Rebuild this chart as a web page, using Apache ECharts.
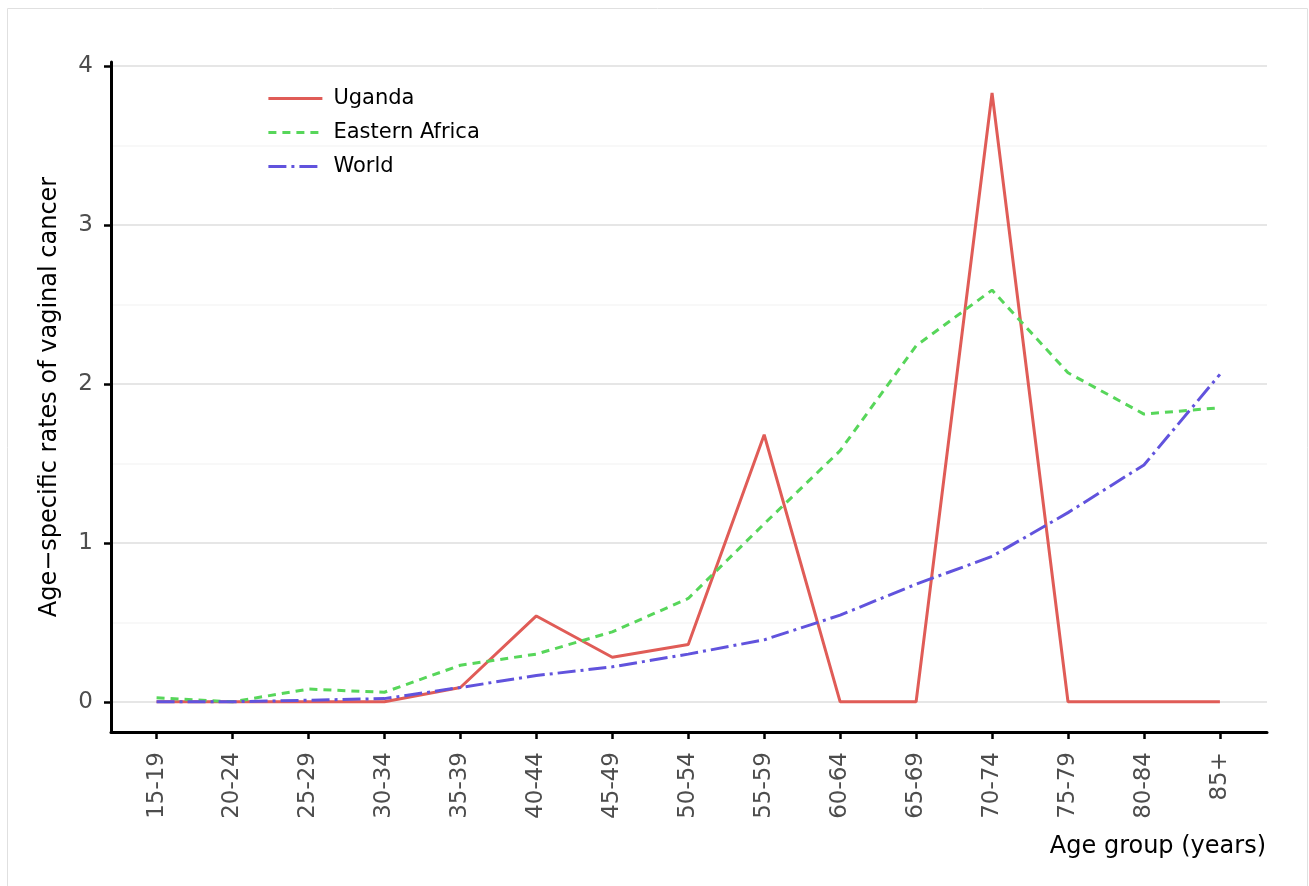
<!DOCTYPE html>
<html lang="en">

<head>
    <meta charset="UTF-8">
    <title>Vaginal cancer rates</title>
    <style>
        html, body { margin: 0; padding: 0; background: #fff; }
    </style>
</head>

<body>
    <div id="main" style="width: 1309px; height: 886px"></div>
    <script src="https://cdn.jsdelivr.net/npm/echarts@6/dist/echarts.min.js"></script>
    <script type="text/javascript">
        // data
        var ageGroups = ['15-19', '20-24', '25-29', '30-34', '35-39', '40-44', '45-49', '50-54',
            '55-59', '60-64', '65-69', '70-74', '75-79', '80-84', '85+'];
        var uganda = [0, 0, 0, 0, 0.09, 0.54, 0.28, 0.36, 1.68, 0, 0, 3.83, 0, 0, 0];
        var easternAfrica = [0.025, 0, 0.08, 0.06, 0.23, 0.30, 0.44, 0.65, 1.12, 1.58, 2.24, 2.59, 2.07, 1.81, 1.85];
        var world = [0, 0, 0.01, 0.02, 0.09, 0.165, 0.22, 0.30, 0.39, 0.545, 0.74, 0.915, 1.19, 1.49, 2.06];
        var yTicks = [0, 1, 2, 3, 4];
        var yMinor = [0.5, 1.5, 2.5, 3.5];

        var font = 'DejaVu Sans';
        var idx = ageGroups.map(function (a, i) { return i; });

        function pairs(arr) {
            return arr.map(function (v, i) { return [i, v]; });
        }

        // panel grid lines (major + minor), drawn under the data
        var gridLines = yTicks.map(function (v) {
            return { yAxis: v, lineStyle: { color: '#e6e6e6', width: 2, type: 'solid' } };
        }).concat(yMinor.map(function (v) {
            return { yAxis: v, lineStyle: { color: '#f6f6f6', width: 1.5, type: 'solid' } };
        }));

        var myChart = echarts.init(document.getElementById('main'));
        var option = {
            animation: false,
            textStyle: { fontFamily: font },
            grid: { left: 111, right: 42, top: 62, bottom: 154 },
            legend: {
                data: ['Uganda', 'Eastern Africa', 'World'],
                orient: 'vertical',
                left: 262,
                top: 83,
                itemWidth: 54,
                itemHeight: 20,
                itemGap: 13,
                itemStyle: { opacity: 0 },
                lineStyle: { width: 2.8 },
                textStyle: { fontFamily: font, fontSize: 21, color: '#000', padding: [0, 0, 0, 6] }
            },
            xAxis: {
                type: 'value',
                min: -0.6,
                max: 14.62,
                axisLine: { onZero: false, lineStyle: { color: '#000', width: 3 } },
                axisTick: { customValues: idx, length: 7, lineStyle: { color: '#000', width: 2.5 } },
                axisLabel: {
                    customValues: idx,
                    rotate: 90,
                    margin: 20,
                    fontSize: 23,
                    color: '#4d4d4d',
                    fontFamily: font,
                    formatter: function (v) { return ageGroups[v]; }
                },
                splitLine: { show: false }
            },
            yAxis: {
                type: 'value',
                min: -0.19,
                max: 4.025,
                name: 'Age\u2212specific rates of vaginal cancer',
                nameLocation: 'middle',
                nameRotate: 90,
                nameGap: 49,
                nameTextStyle: { fontFamily: font, fontSize: 24, color: '#000' },
                axisLine: { show: true, onZero: false, lineStyle: { color: '#000', width: 3 } },
                axisTick: { show: true, customValues: yTicks, length: 7, lineStyle: { color: '#000', width: 2.5 } },
                axisLabel: { customValues: yTicks, margin: 18, fontSize: 23, color: '#4d4d4d', fontFamily: font },
                splitLine: { show: false }
            },
            graphic: [
                {
                    type: 'rect',
                    shape: { x: 7.5, y: 8.5, width: 1300, height: 890 },
                    style: { fill: 'none', stroke: '#e0e0e0', lineWidth: 1 },
                    silent: true
                },
                {
                    type: 'text',
                    right: 43, top: 835,
                    style: { text: 'Age group (years)', fontFamily: font, fontSize: 24, fill: '#000' }
                }
            ],
            series: [
                {
                    name: 'grid',
                    type: 'line',
                    data: [],
                    silent: true,
                    markLine: { silent: true, symbol: 'none', z: 0, label: { show: false }, data: gridLines }
                },
                {
                    name: 'Uganda',
                    type: 'line',
                    data: pairs(uganda),
                    symbol: 'none',
                    color: '#e05c57',
                    lineStyle: { width: 3, color: '#e05c57' }
                },
                {
                    name: 'Eastern Africa',
                    type: 'line',
                    data: pairs(easternAfrica),
                    symbol: 'none',
                    color: '#57d65a',
                    lineStyle: { width: 3, color: '#57d65a', type: [8, 6] }
                },
                {
                    name: 'World',
                    type: 'line',
                    data: pairs(world),
                    symbol: 'none',
                    color: '#6153dd',
                    lineStyle: { width: 3, color: '#6153dd', type: [18, 5, 3, 5] }
                }
            ]
        };
        myChart.setOption(option);
    </script>

</body>

</html>
